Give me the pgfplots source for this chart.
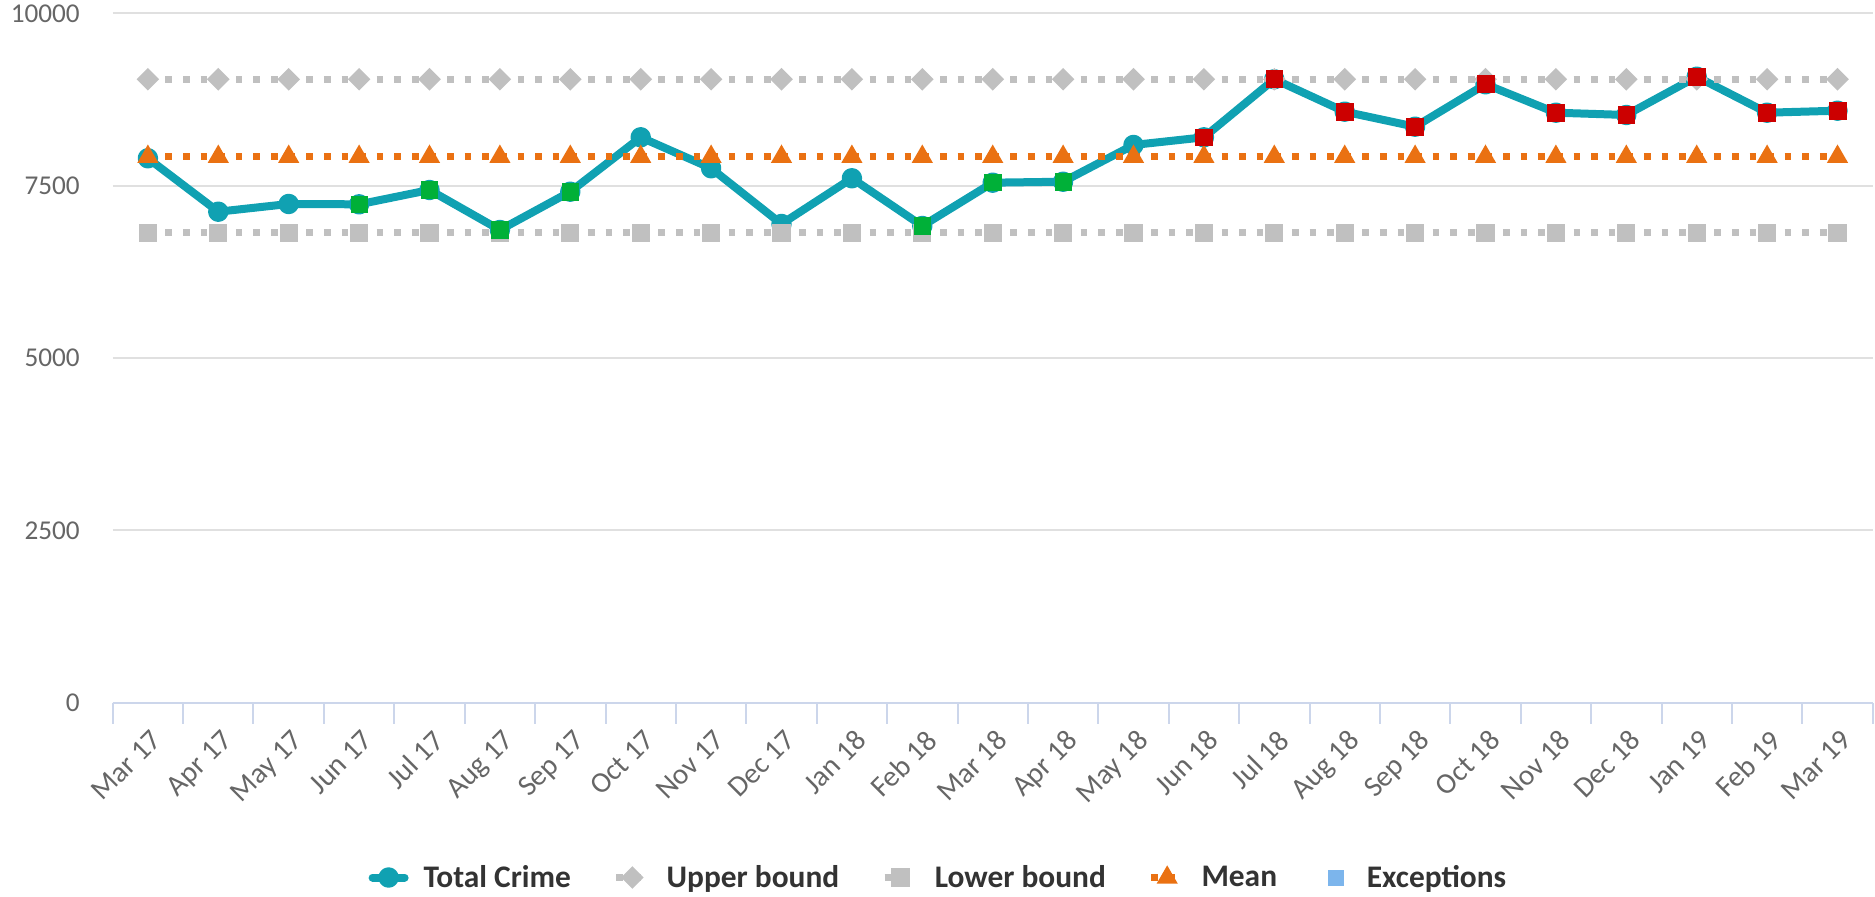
\documentclass[border=0pt]{standalone}
\usepackage{pgfplots}
\pgfplotsset{compat=1.18}
\usepackage{fontspec}
\setmainfont{Carlito}
\definecolor{teal1}{RGB}{16,161,178}
\definecolor{grey1}{RGB}{192,192,192}
\definecolor{orange1}{RGB}{234,113,18}
\definecolor{green1}{RGB}{0,176,56}
\definecolor{red1}{RGB}{204,0,0}
\definecolor{exblue}{RGB}{124,181,236}
\definecolor{gridc}{RGB}{224,224,224}
\definecolor{axc}{RGB}{204,214,235}
\definecolor{lab}{RGB}{102,102,102}
\definecolor{legt}{RGB}{51,51,51}

\pgfplotsset{
  exleg/.style={legend image code/.code={\path (0pt,0pt) (16pt,0pt); \draw[##1,draw=none] plot coordinates {(8pt,0pt)};}},
}

\pgfplotstableread{
x total
0 7897
1 7122
2 7234
3 7229
4 7437
5 6857
6 7412
7 8201
8 7752
9 6944
10 7607
11 6915
12 7543
13 7557
14 8090
15 8201
16 9043
17 8573
18 8355
19 8970
20 8558
21 8525
22 9080
23 8558
24 8587
}\totaltable

\pgfplotstableread{
x upper lower mean
0 9043 6818 7920
1 9043 6818 7920
2 9043 6818 7920
3 9043 6818 7920
4 9043 6818 7920
5 9043 6818 7920
6 9043 6818 7920
7 9043 6818 7920
8 9043 6818 7920
9 9043 6818 7920
10 9043 6818 7920
11 9043 6818 7920
12 9043 6818 7920
13 9043 6818 7920
14 9043 6818 7920
15 9043 6818 7920
16 9043 6818 7920
17 9043 6818 7920
18 9043 6818 7920
19 9043 6818 7920
20 9043 6818 7920
21 9043 6818 7920
22 9043 6818 7920
23 9043 6818 7920
24 9043 6818 7920
}\limitstable

\pgfplotstableread{
x val
3 7229
4 7437
5 6857
6 7412
11 6915
12 7543
13 7557
}\greentable

\pgfplotstableread{
x val
15 8201
16 9043
17 8573
18 8355
19 8970
20 8558
21 8525
22 9080
23 8558
24 8587
}\redtable

\begin{document}
\begin{tikzpicture}
\begin{axis}[
  at={(0,0)}, anchor=south west,
  scale only axis, width=880pt, height=344.7pt,
  xmin=-0.5, xmax=24.5, ymin=0, ymax=10000,
  clip=false,
  axis x line*=bottom, axis y line*=left,
  separate axis lines,
  y axis line style={draw=none},
  x axis line style={draw=axc, line width=1pt},
  tick align=outside,
  major tick length=0pt,
  ytick={0,2500,5000,7500,10000},
  yticklabels={0,2500,5000,7500,10000},
  ymajorgrids,
  major grid style={draw=gridc, line width=1pt},
  xtick={0,...,24},
  xticklabels={Mar 17,Apr 17,May 17,Jun 17,Jul 17,Aug 17,Sep 17,Oct 17,Nov 17,Dec 17,Jan 18,Feb 18,Mar 18,Apr 18,May 18,Jun 18,Jul 18,Aug 18,Sep 18,Oct 18,Nov 18,Dec 18,Jan 19,Feb 19,Mar 19},
  extra x ticks={-0.5,0.5,...,24.5},
  extra x tick style={major tick length=10.5pt, tick style={draw=axc, line width=1pt}, xticklabel={}},
  yticklabel style={font=\fontsize{13.6}{16}\selectfont, text=lab, anchor=east, inner sep=0pt, xshift=-16.3pt, yshift=0pt},
  xticklabel style={font=\fontsize{14.6}{17}\selectfont, text=lab, xshift=1pt, yshift=-12.5pt, rotate=45, anchor=north east, inner sep=0pt},
  legend image code/.code={\draw[mark repeat=2,mark phase=2,#1] plot coordinates {(0pt,0pt) (8pt,0pt) (16pt,0pt)};},
  legend style={at={(0.4686,-0.2536)}, anchor=center, draw=none, fill=none, inner sep=0pt,
    legend columns=5, font=\fontsize{15.7}{18}\selectfont\bfseries, text=legt,
    nodes={inner sep=0pt},
    /tikz/every odd column/.append style={column sep=7.5pt},
    /tikz/every even column/.append style={column sep=21pt}},
  legend cell align=left,
]
\addplot[teal1, line width=4pt, line join=round, line cap=round, mark=*, mark size=3.1pt,
  mark options={solid, fill=teal1, draw=none}] table[x=x, y=total] {\totaltable};
\addlegendentry{Total Crime}
\addplot[grey1, line width=3.3pt, line cap=butt, dash pattern=on 3.3pt off 5.5pt, mark=square*, mark size=2.35pt,
  mark options={solid, rotate=45, fill=grey1, draw=none}] table[x=x, y=upper] {\limitstable};
\addlegendentry{Upper bound}
\addplot[grey1, line width=3.3pt, line cap=butt, dash pattern=on 3.3pt off 5.5pt, mark=square*, mark size=2.9pt,
  mark options={solid, fill=grey1, draw=none}] table[x=x, y=lower] {\limitstable};
\addlegendentry{Lower bound}
\addplot[orange1, line width=3.3pt, line cap=butt, dash pattern=on 3.3pt off 5.5pt, mark=triangle*, mark size=2.8pt,
  mark options={solid, fill=orange1, draw=none}] table[x=x, y=mean] {\limitstable};
\addlegendentry{Mean}
\addplot[forget plot, green1, only marks, mark=square*, mark size=4.1pt, mark options={solid, fill=green1, draw=none}] table[x=x, y=val] {\greentable};
\addplot[forget plot, red1, only marks, mark=square*, mark size=4.2pt, mark options={solid, fill=red1, draw=none}] table[x=x, y=val] {\redtable};
\addlegendimage{exleg, exblue, mark=square*, mark size=3.75pt, mark options={fill=exblue, draw=none}}
\addlegendentry{Exceptions}
\end{axis}
\pgfresetboundingbox
\path[use as bounding box] (-56.35pt,-97.15pt) rectangle (881.15pt,351.35pt);
\end{tikzpicture}
\end{document}
